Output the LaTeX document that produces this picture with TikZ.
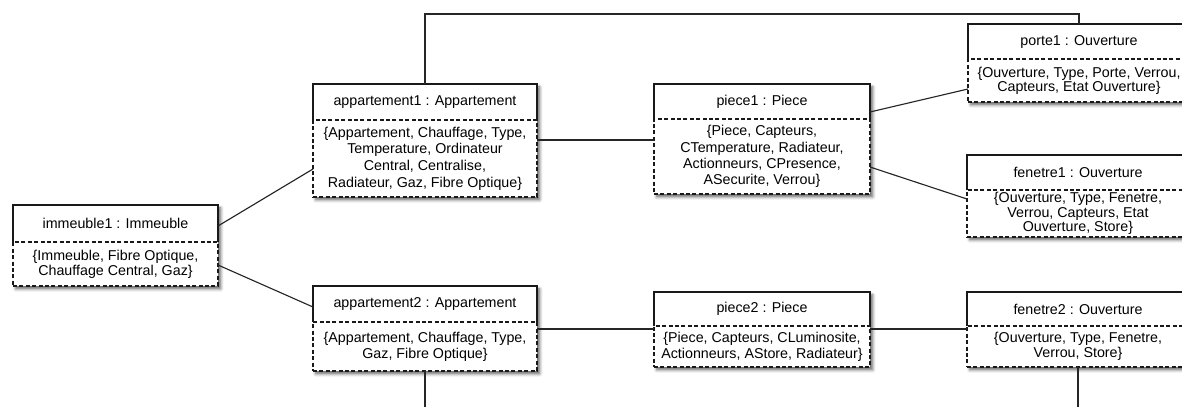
\documentclass[tikz,border=0pt]{standalone}
\usepackage{fontspec}
\setmainfont{Liberation Sans}
\usetikzlibrary{calc,shadows.blur}

\tikzset{
  objfont/.style={font=\fontsize{10.7}{#1}\selectfont},
  objtitle/.style={inner sep=0pt, outer sep=0pt, anchor=north west, align=center, objfont=12},
  objbody/.style={draw=black!90, dash pattern=on 3pt off 1.8pt, line width=0.9pt,
    inner sep=0pt, outer sep=0pt, anchor=north west, align=center},
  objframe/.style={draw=black!90, line width=0.9pt},
  objshadow/.style={fill=white, blur shadow={shadow xshift=2pt, shadow yshift=-2.2pt,
    shadow blur radius=2.2pt, shadow opacity=60}},
  link/.style={draw=black!85, line width=0.85pt},
}

% object box: [body options]{name}{x}{y}{width}{title height}{body height}{title}{body}
\newcommand\objbox[9][]{%
  \path[objshadow] (#3,#4) rectangle ++(#5,{#6+#7});
  \node[objtitle, minimum width=#5*0.75pt, minimum height=#6*0.75pt] (#2) at (#3,#4) {#8};
  \draw[objframe] (#2.south west) -- (#2.north west) -- (#2.north east) -- (#2.south east);
  \node[objbody, minimum width=#5*0.75pt, minimum height=#7*0.75pt, #1] (#2-b) at (#2.south west) {#9};
}

\begin{document}
\begin{tikzpicture}[x=0.75pt, y=-0.75pt]
  \useasboundingbox (0,0) rectangle (1182,407);
  \clip (0,0) rectangle (1182,407);

  \objbox[objfont=11.2]{imm}{13}{205}{205}{37}{44}{immeuble1 : Immeuble}
    {\{Immeuble, Fibre Optique,\\Chauffage Central, Gaz\}}
  \objbox[objfont=12.5]{app1}{313}{84}{224}{36}{77}{appartement1 : Appartement}
    {\{Appartement, Chauffage, Type,\\Temperature, Ordinateur\\Central, Centralise,\\Radiateur, Gaz, Fibre Optique\}}
  \objbox[objfont=11.8]{app2}{313}{286}{224}{36}{49}{appartement2 : Appartement}
    {\{Appartement, Chauffage, Type,\\Gaz, Fibre Optique\}}
  \objbox[objfont=12.2]{pc1}{654}{84}{216}{35}{75}{piece1 : Piece}
    {\{Piece, Capteurs,\\CTemperature, Radiateur,\\Actionneurs, CPresence,\\ASecurite, Verrou\}}
  \objbox[objfont=11.8]{pc2}{654}{292}{216}{34}{41}{piece2 : Piece}
    {\{Piece, Capteurs, CLuminosite,\\Actionneurs, AStore, Radiateur\}}
  \objbox[objfont=10.6]{porte}{968}{24}{222}{35}{43}{porte1 : Ouverture}
    {\{Ouverture, Type, Porte, Verrou,\\Capteurs, Etat Ouverture\}}
  \objbox[objfont=11]{fen1}{967}{155}{222}{35}{47}{fenetre1 : Ouverture}
    {\{Ouverture, Type, Fenetre,\\Verrou, Capteurs, Etat\\Ouverture, Store\}}
  \objbox[objfont=11.3]{fen2}{967}{292}{222}{34}{41}{fenetre2 : Ouverture}
    {\{Ouverture, Type, Fenetre,\\Verrou, Store\}}

  % links between objects
  \draw[link] ($(imm.east)+(0,2.5)$) -- ($(app1-b.west)+(0,10.5)$);
  \draw[link] ($(imm-b.east)+(0,1)$) -- ($(app2.west)+(0,3)$);
  \draw[link] ($(app1-b.east)+(0,-18.5)$) -- ($(pc1-b.west)+(0,-16.5)$);
  \draw[link] ($(pc1.east)+(0,10.5)$) -- ($(porte-b.west)+(0,8.5)$);
  \draw[link] ($(pc1-b.east)+(0,10.5)$) -- ($(fen1-b.west)+(0,-14.5)$);
  \draw[link] ($(app2-b.east)+(0,-17.5)$) -- ($(pc2-b.west)+(0,-17.5)$);
  \draw[link] ($(pc2-b.east)+(0,-17.5)$) -- ($(fen2-b.west)+(0,-17.5)$);
  \draw[link] (app1.north) -- ++(0,-70) -| (porte.north);

  % links leaving the page downwards
  \coordinate (app2out) at ($(app2-b.south)+(0,60)$);
  \coordinate (fen2out) at ($(fen2-b.south)+(0,60)$);
  \draw[link] (app2-b.south) -- (app2out);
  \draw[link] (fen2-b.south) -- (fen2out);
\end{tikzpicture}
\end{document}
